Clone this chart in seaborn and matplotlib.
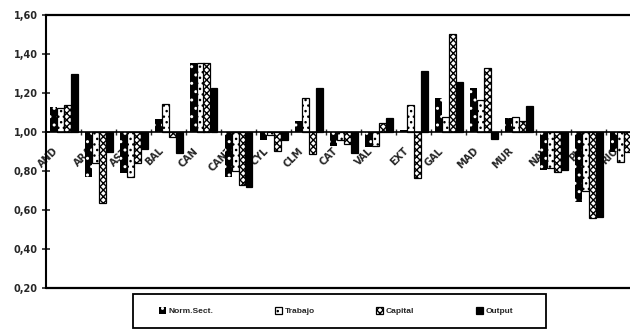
import pandas as pd
import matplotlib
matplotlib.use("Agg")
import matplotlib.pyplot as plt
import matplotlib.transforms as mtransforms
from matplotlib.patches import Rectangle
from matplotlib.ticker import FuncFormatter, FixedLocator
import seaborn as sns

# Regional ratios by component (1.00 = national average)
regions = ["AND", "ARA", "AST", "BAL", "CAN", "CANT", "CYL", "CLM", "CAT",
           "VAL", "EXT", "GAL", "MAD", "MUR", "NAV", "PV", "RIO"]
series = ["Norm.Sect.", "Trabajo", "Capital", "Output"]
norm_sect = [1.13, 0.77, 0.79, 1.065, 1.355, 0.77, 0.96, 1.055, 0.93,
             0.925, 1.008, 1.175, 1.225, 1.07, 0.805, 0.64, 0.90]
trabajo = [1.125, 0.84, 0.77, 1.145, 1.355, 0.80, 0.985, 1.175, 0.96,
           0.93, 1.14, 1.075, 1.165, 1.078, 0.815, 0.70, 0.845]
capital = [1.14, 0.635, 0.84, 0.975, 1.355, 0.73, 0.905, 0.885, 0.94,
           1.048, 0.765, 1.505, 1.33, 1.058, 0.795, 0.56, 0.90]
output = [1.30, 0.90, 0.915, 0.89, 1.227, 0.72, 0.96, 1.227, 0.89,
          1.07, 1.315, 1.255, 0.965, 1.135, 0.805, 0.565, 0.88]
y_ticks = [0.20, 0.40, 0.60, 0.80, 1.00, 1.20, 1.40, 1.60]
base = 1.0

values = {"Norm.Sect.": norm_sect, "Trabajo": trabajo,
          "Capital": capital, "Output": output}
rows = []
for s in series:
    for r, v in zip(regions, values[s]):
        rows.append({"region": r, "serie": s, "valor": v, "desv": v - base})
df = pd.DataFrame(rows)

sns.set_style("white")
plt.rcParams["font.family"] = ["DejaVu Sans"]
plt.rcParams["hatch.linewidth"] = 1.0

fig = plt.figure(figsize=(6.3, 3.29), dpi=100)
ax = fig.add_axes([46 / 630, 41 / 329, 595 / 630, 273 / 329])

palette = {"Norm.Sect.": "black", "Trabajo": "white",
           "Capital": "white", "Output": "black"}
sns.barplot(data=df, x="region", y="desv", hue="serie", order=regions,
            hue_order=series, palette=palette, saturation=1, width=0.8,
            errorbar=None, bottom=base, ax=ax, legend=False, zorder=1)

# black-and-white fill patterns per series
styles = {
    "Norm.Sect.": dict(facecolor="black", edgecolor="white", hatch="..", linewidth=0),
    "Trabajo": dict(facecolor="white", edgecolor="black", hatch="...", linewidth=0.9),
    "Capital": dict(facecolor="white", edgecolor="black", hatch="xxxxx", linewidth=0.9),
    "Output": dict(facecolor="black", edgecolor="black", hatch=None, linewidth=0.9),
}
for cont, s in zip(ax.containers, series):
    for p in cont.patches:
        p.set(**styles[s])
        p.set_zorder(1)

ax.set_xlim(-0.5, len(regions) - 0.5)
ax.set_ylim(0.20, 1.60)
ax.set_xlabel("")
ax.set_ylabel("")
ax.set_axisbelow(True)

# y axis
ax.yaxis.set_major_locator(FixedLocator(y_ticks))
ax.yaxis.set_major_formatter(FuncFormatter(lambda v, _: f"{v:.2f}".replace(".", ",")))
ax.tick_params(axis="y", direction="inout", length=6, width=1.2, pad=3,
               labelsize=7, left=True)
for lab in ax.get_yticklabels():
    lab.set_fontweight("bold")

# category axis crossing at 1.00
ax.spines["bottom"].set_position(("data", base))
ax.spines["right"].set_visible(False)
for sp in ["left", "top", "bottom"]:
    ax.spines[sp].set_color("black")
ax.spines["left"].set_linewidth(1.5)
ax.spines["top"].set_linewidth(1.6)
ax.spines["bottom"].set_linewidth(1.2)
ax.axhline(0.20, color="black", lw=1.6, clip_on=False, zorder=3)

ax.set_xticks(range(len(regions)))
ax.set_xticklabels(regions, rotation=45, ha="right", fontsize=7, fontweight="bold")
ax.xaxis.set_minor_locator(FixedLocator([i + 0.5 for i in range(len(regions))]))
ax.tick_params(axis="x", which="major", length=0, pad=10, bottom=True)
ax.tick_params(axis="x", which="minor", direction="inout", length=5, width=1.0, bottom=True)
shift = mtransforms.ScaledTranslation(-3.5 / 100, 0, fig.dpi_scale_trans)
for lab in ax.get_xticklabels():
    lab.set_transform(lab.get_transform() + shift)

# legend box below the plot
fig.patches.append(Rectangle((133 / 630, 1 - 328 / 329), 413 / 630, 34 / 329,
                             transform=fig.transFigure, facecolor="white",
                             edgecolor="black", linewidth=1.3, zorder=4))
leg = fig.legend(handles=list(ax.containers), labels=series, loc="center",
                 bbox_to_anchor=(336 / 630, 1 - 311 / 329), ncol=4, frameon=False,
                 handlelength=0.85, handleheight=0.85, handletextpad=0.3,
                 columnspacing=7.4, borderpad=0.2,
                 prop={"family": "Liberation Sans", "weight": "bold", "size": 6})
leg.set_zorder(5)

fig.savefig("out.png", dpi=100)
